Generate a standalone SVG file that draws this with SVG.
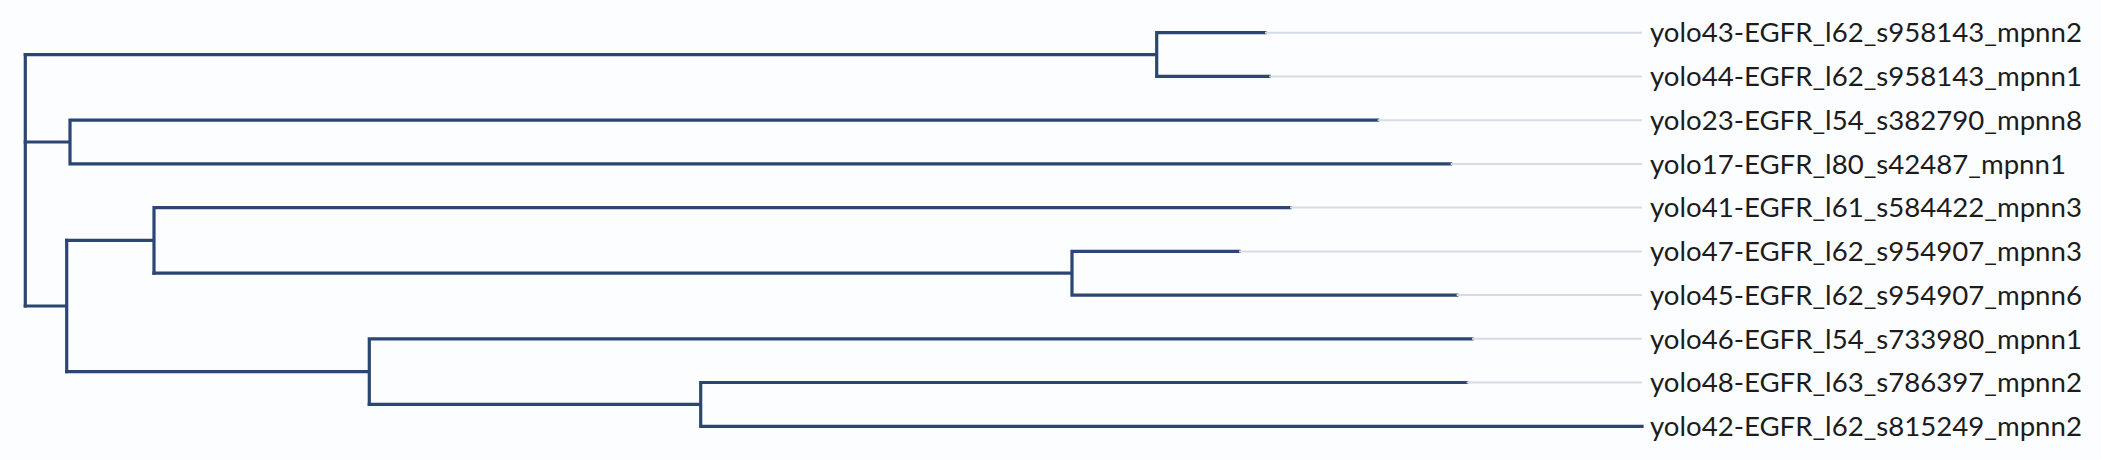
<svg xmlns="http://www.w3.org/2000/svg" width="2101" height="460" viewBox="0 0 2101 460">
<style>
.bg{fill:#fcfdfe}
.br{fill:none;stroke:#2b4673;stroke-width:3.2;stroke-linecap:square}
.guide{stroke:#d6dce4;stroke-width:2}
.lbl{font-family:Lato,"Liberation Sans",sans-serif;font-size:27.6px;fill:#1c1c1c}
</style>
<rect class="bg" width="2101" height="460"/>
<g id="connectors">
<path class="br" d="M25.3,54.6V306"/>
<path class="br" d="M25.3,54.6H1156.7M1156.7,32.7V76.4M1156.7,32.7H1265M1156.7,76.4H1269.3"/>
<path class="br" d="M25.3,142H70M70,120.2V163.9M70,120.2H1377.7M70,163.9H1450.7"/>
<path class="br" d="M25.3,306H66.7M66.7,240.4V371.6"/>
<path class="br" d="M66.7,240.4H154M154,207.6V273.2M154,207.6H1290"/>
<path class="br" d="M154,273.2H1072M1072,251.4V295.1M1072,251.4H1239M1072,295.1H1456.7"/>
<path class="br" d="M66.7,371.6H369.3M369.3,338.8V404.4M369.3,338.8H1472"/>
<path class="br" d="M369.3,404.4H700.7M700.7,382.5V426.3M700.7,382.5H1466.7M700.7,426.3H1642"/>
</g>
<g id="leaf-yolo43"><line class="guide" x1="1265" y1="32.7" x2="1642" y2="32.7"/><text class="lbl" x="1650" y="42.4">yolo43-EGFR_l62_s958143_mpnn2</text></g>
<g id="leaf-yolo44"><line class="guide" x1="1269.3" y1="76.4" x2="1642" y2="76.4"/><text class="lbl" x="1650" y="86.1">yolo44-EGFR_l62_s958143_mpnn1</text></g>
<g id="leaf-yolo23"><line class="guide" x1="1377.7" y1="120.2" x2="1642" y2="120.2"/><text class="lbl" x="1650" y="129.9">yolo23-EGFR_l54_s382790_mpnn8</text></g>
<g id="leaf-yolo17"><line class="guide" x1="1450.7" y1="163.9" x2="1642" y2="163.9"/><text class="lbl" x="1650" y="173.6">yolo17-EGFR_l80_s42487_mpnn1</text></g>
<g id="leaf-yolo41"><line class="guide" x1="1290" y1="207.6" x2="1642" y2="207.6"/><text class="lbl" x="1650" y="217.3">yolo41-EGFR_l61_s584422_mpnn3</text></g>
<g id="leaf-yolo47"><line class="guide" x1="1239" y1="251.4" x2="1642" y2="251.4"/><text class="lbl" x="1650" y="261.1">yolo47-EGFR_l62_s954907_mpnn3</text></g>
<g id="leaf-yolo45"><line class="guide" x1="1456.7" y1="295.1" x2="1642" y2="295.1"/><text class="lbl" x="1650" y="304.8">yolo45-EGFR_l62_s954907_mpnn6</text></g>
<g id="leaf-yolo46"><line class="guide" x1="1472" y1="338.8" x2="1642" y2="338.8"/><text class="lbl" x="1650" y="348.5">yolo46-EGFR_l54_s733980_mpnn1</text></g>
<g id="leaf-yolo48"><line class="guide" x1="1466.7" y1="382.5" x2="1642" y2="382.5"/><text class="lbl" x="1650" y="392.2">yolo48-EGFR_l63_s786397_mpnn2</text></g>
<g id="leaf-yolo42"><text class="lbl" x="1650" y="436">yolo42-EGFR_l62_s815249_mpnn2</text></g>
</svg>
